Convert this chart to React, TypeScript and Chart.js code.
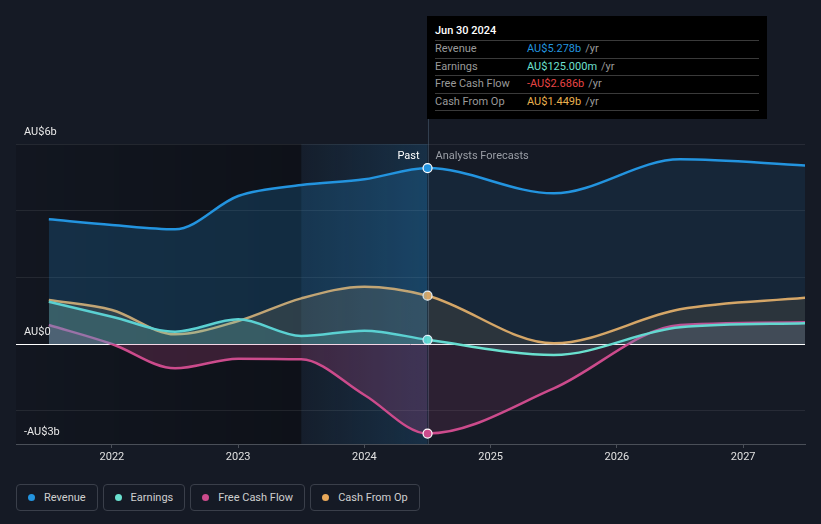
import React, { useEffect, useRef } from "react";
import { Chart, registerables } from "chart.js";

Chart.register(...registerables);

// ---- data (AU$ billions, x = decimal year) ----
const dates = [2021.5, 2022.0, 2022.5, 2023.0, 2023.5, 2024.0, 2024.5, 2025.5, 2026.5, 2027.5];
const revenue = [3.74, 3.57, 3.44, 4.44, 4.77, 4.94, 5.278, 4.52, 5.54, 5.35];
const earnings = [1.27, 0.82, 0.37, 0.74, 0.24, 0.4, 0.125, -0.33, 0.5, 0.62];
const freeCashFlow = [0.57, 0.0, -0.73, -0.44, -0.46, -1.53, -2.686, -1.33, 0.57, 0.65];
const cashFromOp = [1.32, 1.02, 0.29, 0.69, 1.37, 1.72, 1.449, 0.02, 1.04, 1.39];

const xTicks = [2022, 2023, 2024, 2025, 2026, 2027];
const yTicks = [-3, -2, 0, 2, 4, 6];
const yLabelValues = [6, 0, -3];
const yLabelTexts = ["AU$6b", "AU$0", "-AU$3b"];

const xMin = 2021.24;
const xMax = 2027.49;
const yMin = -3;
const yMax = 6;
const highlightStart = 2023.5;
const forecastStart = 2024.5;

const seriesNames = ["Revenue", "Earnings", "Free Cash Flow", "Cash From Op"];
const seriesColors = ["#2394df", "#6ae0cf", "#cc4b8c", "#e9a95a"];
const tooltipTitle = "Jun 30 2024";
const tooltipValues = ["AU$5.278b", "AU$125.000m", "-AU$2.686b", "AU$1.449b"];
const tooltipColors = ["#2394df", "#6ee0d0", "#e84545", "#e9b04f"];

const FONT = "Roboto, 'Noto Sans', sans-serif";

function rgba(hex: string, a: number) {
  const n = parseInt(hex.slice(1), 16);
  return `rgba(${(n >> 16) & 255},${(n >> 8) & 255},${n & 255},${a})`;
}

const bandsPlugin = {
  id: "bands",
  beforeDraw(chart: any) {
    const { ctx, chartArea: a, scales } = chart;
    const x = scales.x;
    const hx = x.getPixelForValue(highlightStart);
    const fx = x.getPixelForValue(forecastStart);
    ctx.save();
    const g1 = ctx.createLinearGradient(a.left, 0, hx, 0);
    g1.addColorStop(0, "rgba(0,0,0,0.12)");
    g1.addColorStop(1, "rgba(0,0,0,0.32)");
    ctx.fillStyle = g1;
    ctx.fillRect(a.left, a.top, hx - a.left, a.bottom - a.top);
    const g2 = ctx.createLinearGradient(hx, 0, fx, 0);
    g2.addColorStop(0, "rgba(35,148,223,0.04)");
    g2.addColorStop(1, "rgba(35,148,223,0.18)");
    ctx.fillStyle = g2;
    ctx.fillRect(hx, a.top, fx - hx, a.bottom - a.top);
    ctx.restore();
  },
  beforeDatasetsDraw(chart: any) {
    const { ctx, chartArea: a, scales } = chart;
    const y0 = Math.round(scales.y.getPixelForValue(0)) + 0.5;
    ctx.save();
    ctx.strokeStyle = "#ffffff";
    ctx.lineWidth = 1;
    ctx.beginPath();
    ctx.moveTo(a.left, y0);
    ctx.lineTo(a.right, y0);
    ctx.stroke();
    // vertical marker line
    const fx = Math.round(scales.x.getPixelForValue(forecastStart)) + 0.5;
    ctx.strokeStyle = "rgba(120,150,180,0.3)";
    ctx.beginPath();
    ctx.moveTo(fx, 118);
    ctx.lineTo(fx, a.bottom);
    ctx.stroke();
    ctx.restore();
  },
  afterDatasetsDraw(chart: any) {
    const { ctx, chartArea: a, scales } = chart;
    ctx.save();
    ctx.font = `11px ${FONT}`;
    ctx.textBaseline = "middle";
    ctx.fillStyle = "#e8e8e8";
    ctx.textAlign = "left";
    yLabelValues.forEach((v, i) => {
      ctx.fillText(yLabelTexts[i], a.left + 8, scales.y.getPixelForValue(v) - 12);
    });
    const fx = scales.x.getPixelForValue(forecastStart);
    ctx.textAlign = "right";
    ctx.fillStyle = "#ffffff";
    ctx.fillText("Past", fx - 8, a.top + 12);
    ctx.textAlign = "left";
    ctx.fillStyle = "#9a9ea6";
    ctx.fillText("Analysts Forecasts", fx + 8, a.top + 12);
    ctx.restore();
  },
};

const pastAlpha = [0.2, 0.2, 0.22, 0.16];
const foreAlpha = [0.1, 0.12, 0.13, 0.11];
const seriesData = [revenue, earnings, freeCashFlow, cashFromOp];

export default function App() {
  const ref = useRef<HTMLCanvasElement | null>(null);

  useEffect(() => {
    document.body.style.margin = "0";
    document.body.style.background = "#151a25";
    if (!ref.current) return;
    const datasets = seriesData.map((vals, s) => ({
      label: seriesNames[s],
      data: dates.map((d, i) => ({ x: d, y: vals[i] })),
      borderColor: seriesColors[s],
      backgroundColor: rgba(seriesColors[s], pastAlpha[s]),
      fill: "origin",
      borderWidth: 2.5,
      cubicInterpolationMode: "monotone",
      pointRadius: (c: any) => (dates[c.dataIndex] === forecastStart ? 4.5 : 0),
      pointHoverRadius: 0,
      pointBackgroundColor: seriesColors[s],
      pointBorderColor: "#ffffff",
      pointBorderWidth: 1.2,
      segment: {
        backgroundColor: (c: any) =>
          c.p0.parsed.x >= forecastStart ? rgba(seriesColors[s], foreAlpha[s]) : undefined,
      },
    }));

    const chart = new Chart(ref.current, {
      type: "line",
      data: { datasets: datasets as any },
      options: {
        animation: false,
        responsive: false,
        layout: { padding: { left: 16, right: 16, top: 144, bottom: 0 } },
        plugins: { legend: { display: false }, tooltip: { enabled: false } },
        events: [],
        scales: {
          x: {
            type: "linear",
            min: xMin,
            max: xMax,
            afterBuildTicks: (sc: any) => {
              sc.ticks = xTicks.map((v) => ({ value: v }));
            },
            afterFit: (sc: any) => {
              sc.height = 26;
            },
            ticks: {
              color: "#e0e0e0",
              font: { family: FONT, size: 11 },
              padding: 3,
              callback: (v: any) => String(v),
            },
            grid: {
              drawOnChartArea: false,
              drawTicks: true,
              tickLength: 4,
              color: "#4a4f58",
            },
            border: { display: true, color: "#4a4f58", width: 1 },
          },
          y: {
            type: "linear",
            min: yMin,
            max: yMax,
            afterBuildTicks: (sc: any) => {
              sc.ticks = yTicks.map((v) => ({ value: v }));
            },
            afterFit: (sc: any) => {
              sc.width = 0;
            },
            ticks: { display: false },
            border: { display: false },
            grid: {
              drawTicks: false,
              color: (c: any) =>
                c.tick && (c.tick.value === 0 || c.tick.value === yMin)
                  ? "rgba(0,0,0,0)"
                  : "rgba(255,255,255,0.08)",
            },
          },
        },
      } as any,
      plugins: [bandsPlugin],
    });
    return () => chart.destroy();
  }, []);

  return (
    <div
      style={{
        position: "relative",
        width: 821,
        height: 524,
        background: "#151a25",
        fontFamily: FONT,
        overflow: "hidden",
      }}
    >
      <canvas
        ref={ref}
        width={821}
        height={470}
        style={{ position: "absolute", left: 0, top: 0, width: 821, height: 470 }}
      />
      <div
        style={{
          position: "absolute",
          left: 427,
          top: 16,
          width: 340,
          height: 103,
          boxSizing: "border-box",
          background: "#000000",
          padding: "0 8px",
          fontSize: 11,
        }}
      >
        <div
          style={{
            paddingTop: 8,
            paddingBottom: 2,
            lineHeight: "14px",
            color: "#ffffff",
            fontWeight: 500,
            borderBottom: "1px solid #3a3a3a",
          }}
        >
          {tooltipTitle}
        </div>
        {seriesNames.map((n, i) => (
          <div
            key={n}
            style={{
              display: "flex",
              height: 16.5,
              lineHeight: "16.5px",
              borderBottom: "1px solid #3a3a3a",
            }}
          >
            <span style={{ width: 92, color: "#9a9a9a" }}>{n}</span>
            <span style={{ color: tooltipColors[i] }}>{tooltipValues[i]}</span>
            <span style={{ color: "#9a9a9a", marginLeft: 4 }}>/yr</span>
          </div>
        ))}
      </div>
      <div
        style={{
          position: "absolute",
          left: 16,
          top: 484,
          display: "flex",
          gap: 5,
        }}
      >
        {seriesNames.map((n, i) => (
          <div
            key={n}
            style={{
              height: 27,
              boxSizing: "border-box",
              border: "1px solid #3a3f4a",
              borderRadius: 4,
              padding: "0 11px 0 11px",
              display: "flex",
              alignItems: "center",
              color: "#cfcfcf",
              fontSize: 11,
            }}
          >
            <span
              style={{
                width: 7,
                height: 7,
                borderRadius: 4,
                background: seriesColors[i],
                marginRight: 9,
                display: "inline-block",
              }}
            />
            {n}
          </div>
        ))}
      </div>
    </div>
  );
}
